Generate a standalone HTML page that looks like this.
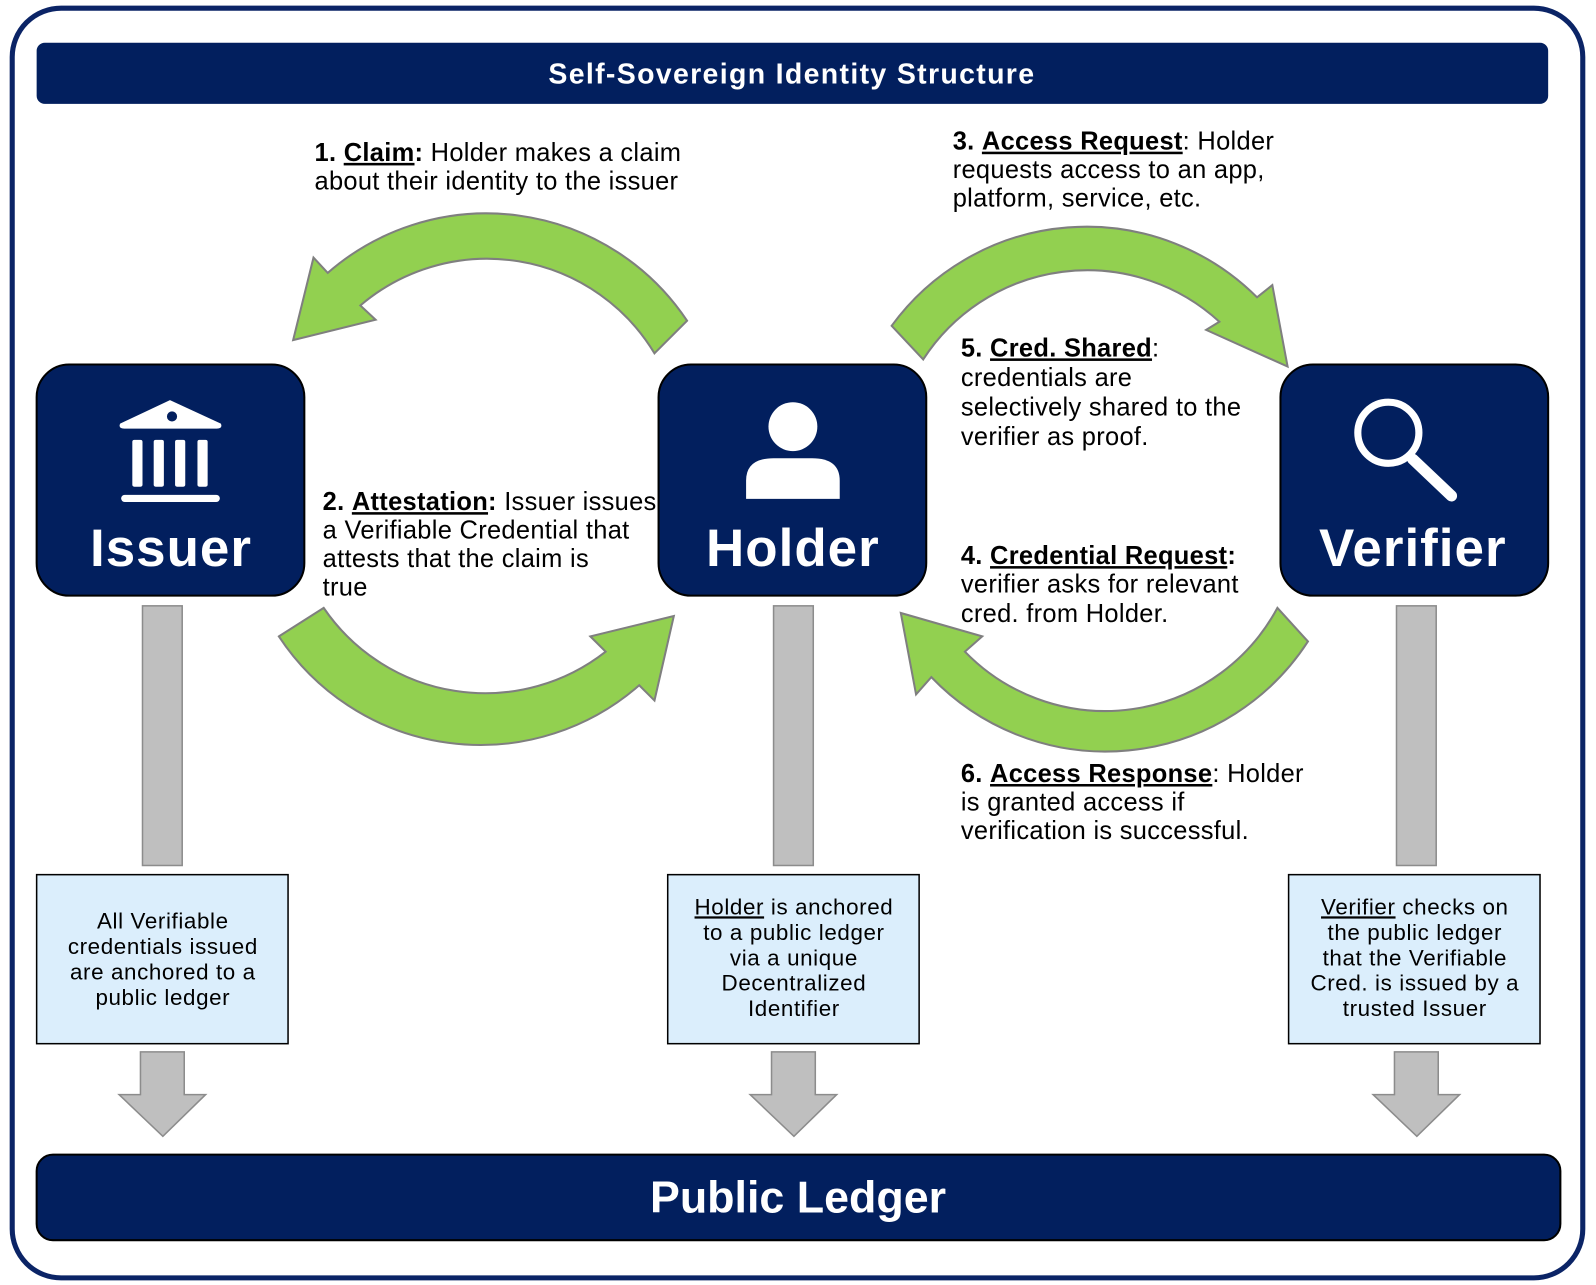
<!DOCTYPE html>
<html><head><meta charset="utf-8"><style>
html,body{margin:0;padding:0;background:#fff;}
svg{display:block;}
text{font-family:"Liberation Sans",sans-serif;}
</style></head><body>
<svg width="1596" height="1285" viewBox="0 0 1568 1262" preserveAspectRatio="none" xmlns="http://www.w3.org/2000/svg">
<rect x="12" y="8" width="1543" height="1247" rx="48" fill="#fff" stroke="#0b2466" stroke-width="5"/>
<rect x="36" y="42" width="1485" height="60" rx="8" fill="#021f5e"/>
<text x="778" y="82" text-anchor="middle" font-size="28" font-weight="bold" fill="#fff" letter-spacing="1.3">Self-Sovereign Identity Structure</text>

<!-- green arrows -->
<g fill="#92d050" stroke="#7f7f7f" stroke-width="2" stroke-linejoin="miter">
<path d="M643,347 L675,315 A237,237 0 0 0 322,268 L308,253 L288,334 L369,314 L354,300 A192,192 0 0 1 643,347 Z"/>
<path d="M907,353 L876,320 A237,237 0 0 1 1235,292 L1250,280 L1265,360 L1185,324 L1198,316 A192,192 0 0 0 907,353 Z"/>
<path d="M274,625 L318,597 A192,192 0 0 0 595,640 L580,625 L662,605 L643,688 L628,673 A237,237 0 0 1 274,625 Z"/>
<path d="M1285,630 L1255,597 A192,192 0 0 1 948,640 L965,625 L885,602 L900,682 L915,665 A237,237 0 0 0 1285,630 Z"/>
</g>

<!-- main boxes -->
<g fill="#021f5e" stroke="#000" stroke-width="2">
<rect x="36" y="358" width="263" height="227" rx="32"/>
<rect x="647" y="358" width="263" height="227" rx="32"/>
<rect x="1258" y="358" width="263" height="227" rx="32"/>
</g>
<g fill="#fff">
<path d="M118,416 L167,393 L217,416 Q219,421 213,421 L122,421 Q116,421 118,416 Z"/>
<rect x="130" y="432" width="10" height="46" rx="2"/>
<rect x="151" y="432" width="10" height="46" rx="2"/>
<rect x="172" y="432" width="10" height="46" rx="2"/>
<rect x="194" y="432" width="10" height="46" rx="2"/>
<rect x="119" y="486" width="97" height="7" rx="3.5"/>
</g>
<circle cx="169" cy="409" r="5" fill="#021f5e"/>
<text x="168" y="556" text-anchor="middle" font-size="52" font-weight="bold" fill="#fff" letter-spacing="1">Issuer</text>
<circle cx="779" cy="419" r="24" fill="#fff"/>
<path d="M733,490 L733,472 Q733,450 760,450 L798,450 Q825,450 825,472 L825,490 Z" fill="#fff"/>
<text x="779" y="556" text-anchor="middle" font-size="52" font-weight="bold" fill="#fff" letter-spacing="1">Holder</text>
<circle cx="1364" cy="425" r="30" fill="none" stroke="#fff" stroke-width="7"/>
<line x1="1388" y1="451" x2="1426" y2="487" stroke="#fff" stroke-width="11" stroke-linecap="round"/>
<text x="1388" y="556" text-anchor="middle" font-size="52" font-weight="bold" fill="#fff" letter-spacing="1">Verifier</text>

<!-- gray bars -->
<g fill="#bfbfbf" stroke="#8c8c8c" stroke-width="1.5">
<rect x="140" y="595" width="39" height="255"/>
<rect x="760" y="595" width="39" height="255"/>
<rect x="1372" y="595" width="39" height="255"/>
<path d="M138,1033 L181,1033 L181,1075 L202,1075 L160,1116 L117,1075 L138,1075 Z"/>
<path d="M758,1033 L801,1033 L801,1075 L822,1075 L780,1116 L737,1075 L758,1075 Z"/>
<path d="M1370,1033 L1413,1033 L1413,1075 L1434,1075 L1392,1116 L1349,1075 L1370,1075 Z"/>
</g>

<g fill="#dbeefc" stroke="#000" stroke-width="1.5">
<rect x="36" y="859" width="247" height="166"/>
<rect x="656" y="859" width="247" height="166"/>
<rect x="1266" y="859" width="247" height="166"/>
</g>
<g font-size="22" fill="#000" text-anchor="middle" letter-spacing="0.6">
<text x="160" y="912">All Verifiable</text>
<text x="160" y="937">credentials issued</text>
<text x="160" y="962">are anchored to a</text>
<text x="160" y="987">public ledger</text>
<text x="780" y="898"><tspan text-decoration="underline">Holder</tspan> is anchored</text>
<text x="780" y="923">to a public ledger</text>
<text x="780" y="948">via a unique</text>
<text x="780" y="973">Decentralized</text>
<text x="780" y="998">Identifier</text>
<text x="1390" y="898"><tspan text-decoration="underline">Verifier</tspan> checks on</text>
<text x="1390" y="923">the public ledger</text>
<text x="1390" y="948">that the Verifiable</text>
<text x="1390" y="973">Cred. is issued by a</text>
<text x="1390" y="998">trusted Issuer</text>
</g>

<rect x="36" y="1134" width="1497" height="84" rx="16" fill="#021f5e" stroke="#000" stroke-width="2"/>
<text x="784" y="1191" text-anchor="middle" font-size="44" font-weight="bold" fill="#fff">Public Ledger</text>

<g font-size="25" fill="#000" letter-spacing="0.3">
<text x="309" y="158"><tspan font-weight="bold">1. </tspan><tspan font-weight="bold" text-decoration="underline">Claim</tspan><tspan font-weight="bold">:</tspan> Holder makes a claim</text>
<text x="309" y="186">about their identity to the issuer</text>
<text x="936" y="147"><tspan font-weight="bold">3. </tspan><tspan font-weight="bold" text-decoration="underline">Access Request</tspan>: Holder</text>
<text x="936" y="175">requests access to an app,</text>
<text x="936" y="203">platform, service, etc.</text>
<text x="944" y="350"><tspan font-weight="bold">5. </tspan><tspan font-weight="bold" text-decoration="underline">Cred. Shared</tspan>:</text>
<text x="944" y="379">credentials are</text>
<text x="944" y="408">selectively shared to the</text>
<text x="944" y="437">verifier as proof.</text>
<text x="317" y="501"><tspan font-weight="bold">2. </tspan><tspan font-weight="bold" text-decoration="underline">Attestation</tspan><tspan font-weight="bold">:</tspan> Issuer issues</text>
<text x="317" y="529">a Verifiable Credential that</text>
<text x="317" y="557">attests that the claim is</text>
<text x="317" y="585">true</text>
<text x="944" y="554"><tspan font-weight="bold">4. </tspan><tspan font-weight="bold" text-decoration="underline">Credential Request</tspan><tspan font-weight="bold">:</tspan></text>
<text x="944" y="582">verifier asks for relevant</text>
<text x="944" y="611">cred. from Holder.</text>
<text x="944" y="768"><tspan font-weight="bold">6. </tspan><tspan font-weight="bold" text-decoration="underline">Access Response</tspan>: Holder</text>
<text x="944" y="796">is granted access if</text>
<text x="944" y="824">verification is successful.</text>
</g>
</svg>
</body></html>
